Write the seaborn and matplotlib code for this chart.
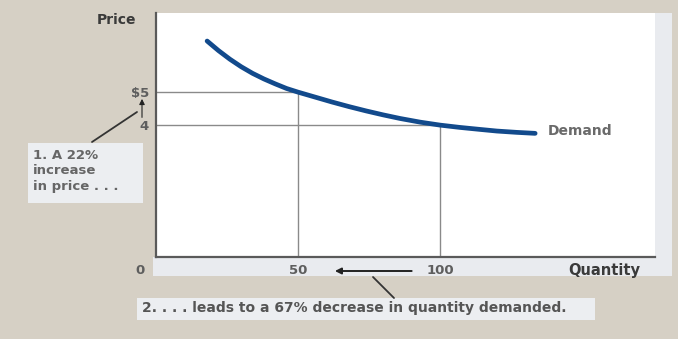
import matplotlib
matplotlib.use("Agg")
import matplotlib.pyplot as plt
import matplotlib.transforms as mtransforms
from matplotlib.patches import Rectangle
import pandas as pd
import seaborn as sns

# Demand schedule (quantity, price)
quantity = [18, 22, 26, 30, 34, 38, 42, 46, 50, 56, 62, 68, 74, 80, 86, 93,
            100, 107, 114, 120, 127, 133.5]
price = [6.55, 6.26, 6.0, 5.77, 5.57, 5.4, 5.25, 5.11, 5.0, 4.85, 4.7, 4.56,
         4.43, 4.31, 4.2, 4.09, 4.0, 3.93, 3.87, 3.82, 3.78, 3.75]

# Reference points on the curve
ref_q = [50, 100]
ref_p = [5, 4]
price_ticks = [4, 5]
price_labels = ["4", "$5"]
qty_ticks = [50, 100]
qty_labels = ["50", "100"]

sns.set_theme(style="white")
plt.rcParams["font.family"] = ["DejaVu Sans"]

W, H = 678, 339
BG = "#d6d0c5"
STRIP = "#e9ebef"
TXT = "#5e5e5e"

fig = plt.figure(figsize=(W / 100, H / 100), dpi=100, facecolor=BG)


def fx(x):
    return x / W


def fy(y):
    return 1 - y / H


# light panel strips behind the plot area
fig.patches.append(Rectangle((fx(153), fy(276)), fx(672 - 153), (276 - 257) / H,
                             transform=fig.transFigure, facecolor=STRIP,
                             edgecolor="none", zorder=-2))
fig.patches.append(Rectangle((fx(653), fy(276)), fx(672 - 653), (276 - 13) / H,
                             transform=fig.transFigure, facecolor=STRIP,
                             edgecolor="none", zorder=-2))

ax = fig.add_axes([fx(156), fy(257), fx(655 - 156), (257 - 13) / H])
ax.set_facecolor("white")
ax.set_xlim(0, 175.7)
ax.set_ylim(0, 7.4)

# guide lines to the reference points
ax.vlines(ref_q, 0, ref_p, color="#8a8a8a", lw=1.0, zorder=1)
ax.hlines(ref_p, 0, ref_q, color="#8a8a8a", lw=1.0, zorder=1)

df = pd.DataFrame({"Quantity": quantity, "Price": price})
sns.lineplot(data=df, x="Quantity", y="Price", ax=ax, color="#124a8c",
             lw=3.4, solid_capstyle="round", solid_joinstyle="round", zorder=3)

for s in ["top", "right"]:
    ax.spines[s].set_visible(False)
for s in ["left", "bottom"]:
    ax.spines[s].set_color("#5a5a5a")
    ax.spines[s].set_linewidth(1.6)

ax.set_xlabel("")
ax.set_ylabel("")
ax.set_xticks(qty_ticks, qty_labels)
ax.set_yticks(price_ticks, price_labels)
ax.tick_params(axis="both", length=0, labelsize=9.5, colors=TXT)
ax.tick_params(axis="x", pad=5)
ax.tick_params(axis="y", pad=5)
for t in ax.get_xticklabels() + ax.get_yticklabels():
    t.set_fontweight("bold")

fkw = dict(transform=fig.transFigure, fontweight="bold")
fig.text(fx(136), fy(20), "Price", ha="right", va="center", fontsize=10,
         color="#3a3a3a", **fkw)
fig.text(fx(140), fy(271), "0", ha="center", va="center", fontsize=9.5,
         color=TXT, **fkw)
fig.text(fx(640), fy(271), "Quantity", ha="right", va="center",
         fontsize=10.5, color="#3a3a3a", **fkw)
fig.text(fx(548), fy(131), "Demand", ha="left", va="center",
         fontsize=10, color="#6a6a6a", **fkw)

# annotation 1: price rise
fig.patches.append(Rectangle((fx(28), fy(203)), fx(143 - 28), (203 - 143) / H,
                             transform=fig.transFigure, facecolor="#eceef1",
                             edgecolor="none", zorder=1))
fig.text(fx(33), fy(171), "1. A 22%\nincrease\nin price . . .", ha="left",
         va="center", fontsize=9.5, color="#666666", linespacing=1.25, **fkw)
ytrans = mtransforms.blended_transform_factory(fig.transFigure, ax.transData)
ax.annotate("", xy=(fx(142), 4.88), xytext=(fx(142), 4.15),
            xycoords=ytrans, textcoords=ytrans, annotation_clip=False,
            arrowprops=dict(arrowstyle="-|>", color="#222222", lw=0.8,
                            mutation_scale=8))
fig.add_artist(plt.Line2D([fx(92), fx(137)], [fy(142), fy(112)],
                          transform=fig.transFigure, color="#333333", lw=1.3))

# annotation 2: quantity fall
fig.patches.append(Rectangle((fx(137), fy(320)), fx(595 - 137), (320 - 298) / H,
                             transform=fig.transFigure, facecolor="#eceef1",
                             edgecolor="none", zorder=1))
fig.text(fx(142), fy(308), "2. . . . leads to a 67% decrease in quantity demanded.",
         ha="left", va="center", fontsize=10, color="#555555", **fkw)
xtrans = mtransforms.blended_transform_factory(ax.transData, fig.transFigure)
ax.annotate("", xy=(62, fy(271)), xytext=(91, fy(271)),
            xycoords=xtrans, textcoords=xtrans, annotation_clip=False,
            arrowprops=dict(arrowstyle="-|>", color="#222222", lw=1.4,
                            mutation_scale=9))
fig.add_artist(plt.Line2D([fx(373), fx(394)], [fy(277), fy(298)],
                          transform=fig.transFigure, color="#333333", lw=1.3))

fig.savefig("out.png", dpi=100, facecolor=BG)
